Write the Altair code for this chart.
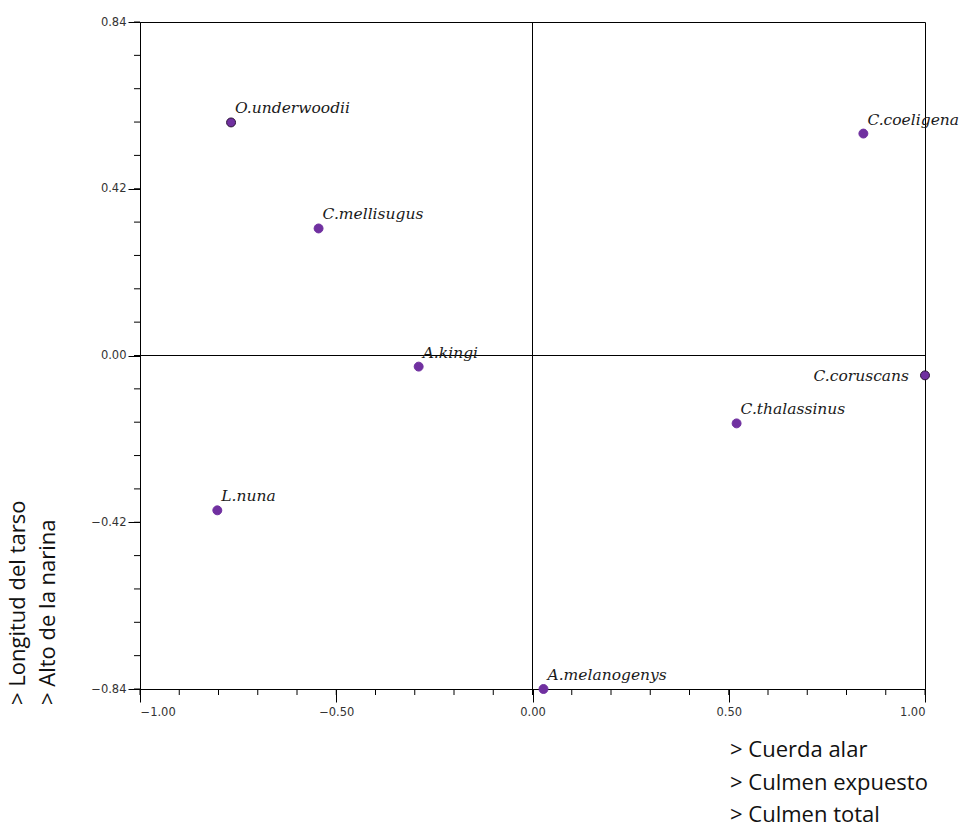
import altair as alt
import pandas as pd

# Species scores on the first two components
species = ["O.underwoodii", "C.mellisugus", "A.kingi", "L.nuna",
           "A.melanogenys", "C.thalassinus", "C.coruscans", "C.coeligena"]
comp1 = [-0.768, -0.545, -0.29, -0.803, 0.028, 0.52, 1.0, 0.843]
comp2 = [0.587, 0.32, -0.028, -0.39, -0.84, -0.171, -0.05, 0.559]

x_major = [-1.0, -0.5, 0.0, 0.5, 1.0]
y_major = [-0.84, -0.42, 0.0, 0.42, 0.84]
x_minor = [round(-1.0 + 0.1 * i, 2) for i in range(21)]
y_minor = [round(-0.84 + 0.084 * i, 3) for i in range(21)]

x_title = ["> Cuerda alar", "> Culmen expuesto", "> Culmen total"]
y_title = ["> Longitud del tarso", "> Alto de la narina"]

W, H = 785, 667
PURPLE = "#7030A0"

df = pd.DataFrame({"name": species, "c1": comp1, "c2": comp2})

xs = alt.Scale(domain=[-1, 1], nice=False, zero=False)
ys = alt.Scale(domain=[-0.84, 0.84], nice=False, zero=False)

tick_label = dict(labelFont="DejaVu Sans", labelFontSize=11.5, labelColor="#333",
                  grid=False, domainColor="black", tickColor="black", title=None,
                  format=".2f")

base = alt.Chart(df)

points = base.mark_point(filled=True, size=80, opacity=1).encode(
    x=alt.X("c1:Q", scale=xs, axis=alt.Axis(
        values=x_major, tickSize=13, labelPadding=4, **tick_label)),
    y=alt.Y("c2:Q", scale=ys, axis=alt.Axis(
        values=y_major, tickSize=12, labelPadding=2, **tick_label)),
    color=alt.value(PURPLE),
    stroke=alt.condition(
        alt.FieldOneOfPredicate(field="name", oneOf=["O.underwoodii", "C.coruscans"]),
        alt.value("#2a1238"), alt.value(PURPLE)),
    strokeWidth=alt.value(1),
)

label_style = dict(font="DejaVu Serif", fontStyle="italic", fontSize=15.5, color="#1a1a1a")

labels = base.transform_filter(alt.datum.name != "C.coruscans").mark_text(
    align="left", baseline="alphabetic", dx=4, dy=-9, **label_style
).encode(x=alt.X("c1:Q", scale=xs), y=alt.Y("c2:Q", scale=ys), text="name:N")

label_left = base.transform_filter(alt.datum.name == "C.coruscans").mark_text(
    align="right", baseline="middle", dx=-16, dy=1, **label_style
).encode(x=alt.X("c1:Q", scale=xs), y=alt.Y("c2:Q", scale=ys), text="name:N")

# zero lines through the origin
vzero = alt.Chart(pd.DataFrame({"v": [0.0]})).mark_rule(color="black", strokeWidth=1).encode(
    x=alt.X("v:Q", scale=xs))
hzero = alt.Chart(pd.DataFrame({"v": [0.0]})).mark_rule(color="black", strokeWidth=1).encode(
    y=alt.Y("v:Q", scale=ys))

# minor ticks outside the frame
xmin = alt.Chart(pd.DataFrame({"v": x_minor})).mark_rule(color="black", strokeWidth=1, clip=False).encode(
    x=alt.X("v:Q", scale=xs), y=alt.value(H), y2=alt.value(H + 6))
ymin = alt.Chart(pd.DataFrame({"v": y_minor})).mark_rule(color="black", strokeWidth=1, clip=False).encode(
    y=alt.Y("v:Q", scale=ys), x=alt.value(-6), x2=alt.value(0))

title_style = dict(font="Open Sans", fontSize=22, color="#111")
one = pd.DataFrame({"k": [0]})
xt = alt.Chart(one).mark_text(align="left", baseline="middle", lineHeight=32.5,
                              clip=False, **title_style).encode(
    x=alt.value(590), y=alt.value(728), text=alt.value(x_title))
yt = alt.Chart(one).mark_text(align="left", baseline="middle", angle=270, lineHeight=30,
                              clip=False, **title_style).encode(
    x=alt.value(-122), y=alt.value(683), text=alt.value(y_title))

chart = alt.layer(vzero, hzero, xmin, ymin, points, labels, label_left, xt, yt).properties(
    width=W, height=H,
    autosize=alt.AutoSizeParams(type="none"),
    padding={"left": 140, "top": 22, "right": 39, "bottom": 140},
    background="white",
).configure_view(stroke="black", strokeWidth=1)

chart.save("out.html", embed_options={"renderer": "svg", "actions": False})
